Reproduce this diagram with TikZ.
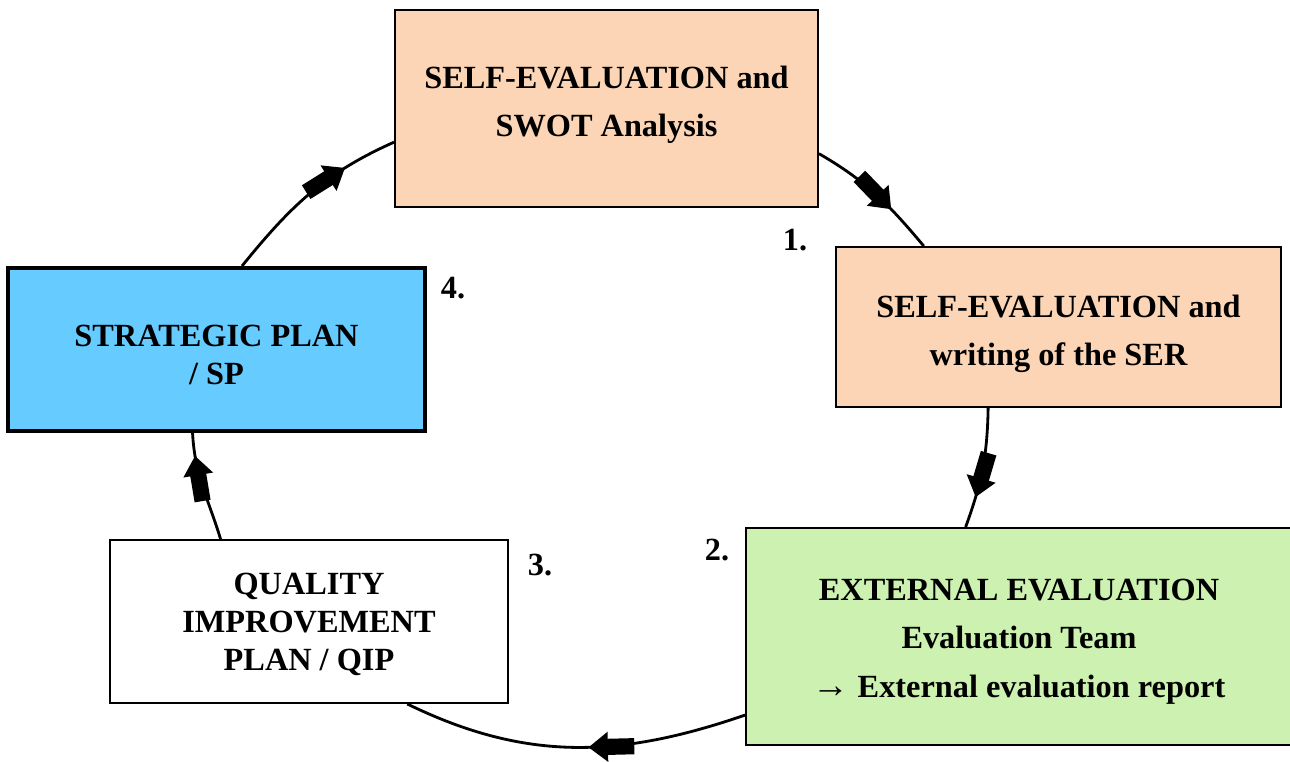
\documentclass[tikz,border=0pt]{standalone}
\usepackage{fontspec}
\setmainfont{Liberation Serif}
\usetikzlibrary{arrows.meta}
\usetikzlibrary{decorations.markings}
\definecolor{peach}{RGB}{251,213,181}
\definecolor{lightgreen}{RGB}{204,241,176}
\definecolor{skyblue}{RGB}{102,204,255}
\tikzset{>=latex}
\tikzstyle{stage} = [draw, line width = 1.1, align = center, inner sep = 0pt, text depth = 0pt,
					font = \bfseries\fontsize{18.4}{27.5}\selectfont]
\tikzstyle{tight} = [font = \bfseries\fontsize{18.4}{21.5}\selectfont]
\tikzstyle{number} = [font = \bfseries\fontsize{18.4}{27.5}\selectfont]
\newcommand{\blockarrow}{\fill (-26pt,-4.6pt) rectangle (-10.4pt,4.6pt); \fill (-11pt,-8.6pt) -- (0pt,0pt) -- (-11pt,8.6pt) -- cycle;}
\tikzset{loopline/.style = {%
					line width = 1.6,
					postaction = decorate, decoration={markings, mark=at position #1 with {\blockarrow}}
					}}

\begin{document}
\begin{tikzpicture}[x=0.02cm, y=-0.02cm]
	
	\useasboundingbox (0,0) rectangle (1290,761);
	
	% Stages
	\node[stage, fill=peach, text height=32.3pt, minimum width=8.46cm, minimum height=3.94cm] (selfeval) at (606.5,108.5) {SELF-EVALUATION and\\SWOT Analysis};
	\node[stage, fill=peach, text height=44.2pt, minimum width=8.9cm, minimum height=3.2cm] (ser) at (1058.5,327) {SELF-EVALUATION and\\writing of the SER};
	\node[stage, fill=lightgreen, text height=68.9pt, minimum width=10.92cm, minimum height=4.34cm] (ext) at (1019,636.5) {EXTERNAL EVALUATION\\Evaluation Team\\{\fontsize{21}{27.5}\selectfont →} External evaluation report};
	\node[stage, tight, fill=white, text height=55.6pt, minimum width=7.96cm, minimum height=3.26cm] (qip) at (309,621.5) {QUALITY\\IMPROVEMENT\\PLAN / QIP};
	\node[stage, tight, fill=skyblue, line width = 2.3, text height=39.9pt, minimum width=8.34cm, minimum height=3.26cm] (sp) at (216.5,349.5) {STRATEGIC PLAN\\/ SP};
	
	% Numbers
	\node[number] (n1) at (795,240) {1.};
	\node[number] (n2) at (717,550) {2.};
	\node[number] (n3) at (540,565) {3.};
	\node[number] (n4) at (453,288) {4.};
	
	% Cycle
	\draw[loopline=0.72] (sp.73) to[out=51, in=204] (selfeval.189);
	\draw[loopline=0.65] (selfeval.-12) to[out=-30, in=130] (ser.149);
	\draw[loopline=0.74] (ser.229) to[out=-91, in=70] (ext.116);
	\draw[loopline=0.46] (ext.196) to[out=199, in=-26] (qip.-40);
	\draw[loopline=0.79] (qip.137) to[out=107, in=-87] (sp.254);

\end{tikzpicture}
\end{document}
